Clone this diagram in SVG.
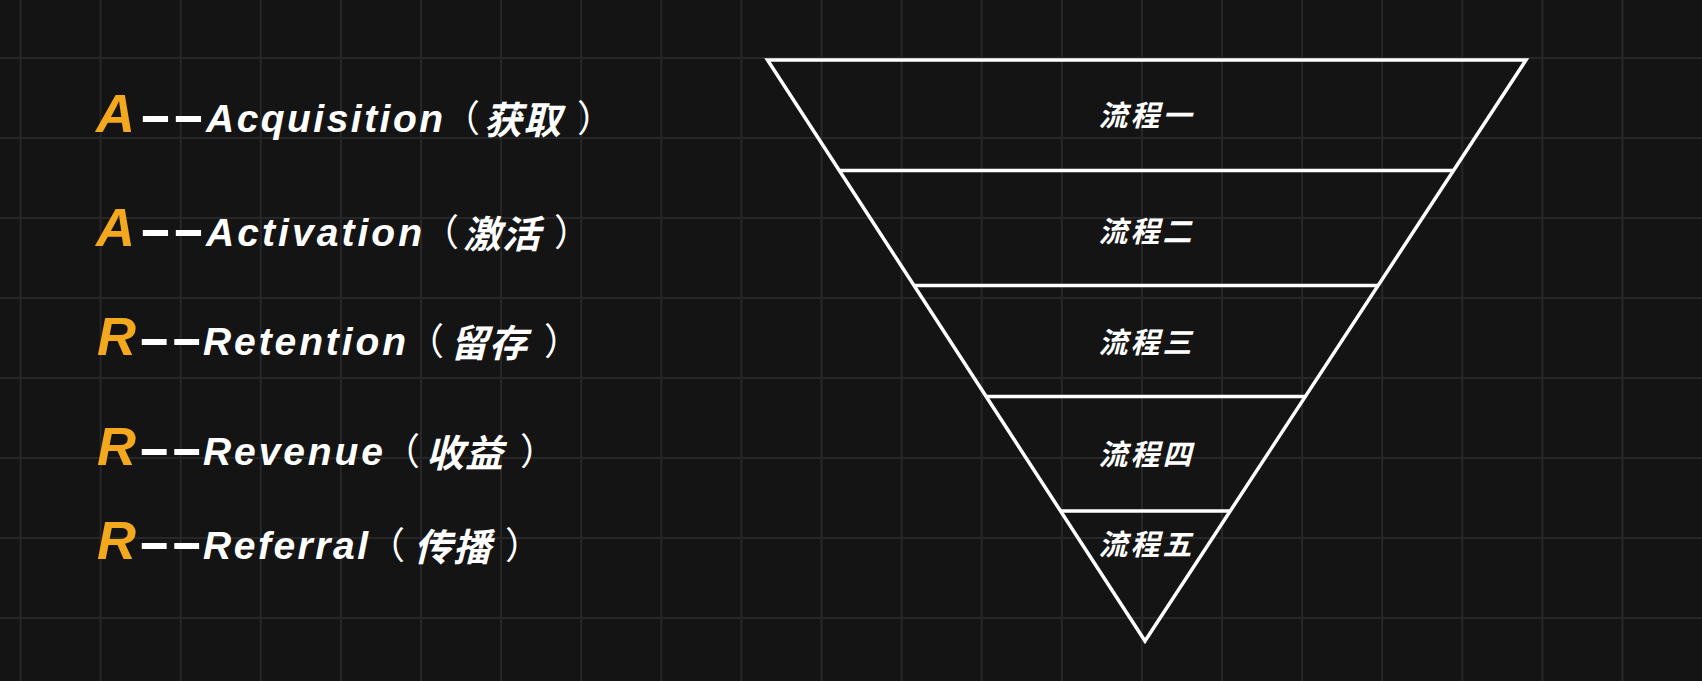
<svg xmlns="http://www.w3.org/2000/svg" width="1702" height="681" viewBox="0 0 1702 681">
<style>
.bg{fill:#141414}
.grid{stroke:#272727;stroke-width:2;fill:none}
.key{font-family:"Liberation Sans",Arial,sans-serif;font-weight:bold;font-style:italic;font-size:54px;fill:#f4a81d}
.dash{font-family:"Liberation Sans",Arial,sans-serif;font-weight:bold;font-size:50px;fill:#ffffff}
.word{font-family:"Liberation Sans",Arial,sans-serif;font-weight:bold;font-style:italic;font-size:39px;fill:#ffffff}
.cjk{font-family:"Noto Sans CJK SC","Noto Sans CJK JP",sans-serif;font-weight:bold;font-style:italic;font-size:38px;letter-spacing:1px;fill:#ffffff}
.par{font-family:"Noto Sans CJK SC","Noto Sans CJK JP",sans-serif;font-weight:normal;font-size:37px;fill:#ffffff}
.edge{stroke:#ffffff;stroke-width:3.5;fill:none;stroke-linejoin:miter}
.lbl{font-family:"Noto Sans CJK SC","Noto Sans CJK JP",sans-serif;font-weight:bold;font-style:italic;font-size:29px;letter-spacing:3px;fill:#ffffff;text-anchor:middle}
</style>
<rect class="bg" x="0" y="0" width="1702" height="681"/>
<path class="grid" d="M20.5 0V681M100.6 0V681M180.7 0V681M260.8 0V681M340.9 0V681M421 0V681M501.1 0V681M581.2 0V681M661.3 0V681M741.4 0V681M821.5 0V681M901.6 0V681M981.7 0V681M1061.8 0V681M1141.9 0V681M1222 0V681M1302.1 0V681M1382.2 0V681M1462.3 0V681M1542.4 0V681M1622.5 0V681M0 58H1702M0 138H1702M0 218H1702M0 298H1702M0 378H1702M0 458H1702M0 538H1702M0 618H1702"/>

<g id="row-acquisition">
<text class="key" x="96" y="132">A</text>
<text class="dash" x="139" y="132" textLength="66" lengthAdjust="spacingAndGlyphs">--</text>
<text class="word" x="206" y="132" textLength="237" lengthAdjust="spacing">Acquisition</text>
<text class="par" x="443" y="132">（</text>
<text class="cjk" x="484" y="134">获取</text>
<text class="par" x="577" y="132">）</text>
</g>
<g id="row-activation">
<text class="key" x="96" y="245.5">A</text>
<text class="dash" x="139" y="245.5" textLength="66" lengthAdjust="spacingAndGlyphs">--</text>
<text class="word" x="206" y="245.5" textLength="216" lengthAdjust="spacing">Activation</text>
<text class="par" x="422" y="245.5">（</text>
<text class="cjk" x="463" y="247.5">激活</text>
<text class="par" x="554" y="245.5">）</text>
</g>
<g id="row-retention">
<text class="key" x="97" y="355">R</text>
<text class="dash" x="138" y="355" textLength="65" lengthAdjust="spacingAndGlyphs">--</text>
<text class="word" x="203" y="355" textLength="203" lengthAdjust="spacing">Retention</text>
<text class="par" x="407" y="355">（</text>
<text class="cjk" x="450" y="357">留存</text>
<text class="par" x="544" y="355">）</text>
</g>
<g id="row-revenue">
<text class="key" x="97" y="465">R</text>
<text class="dash" x="138" y="465" textLength="65" lengthAdjust="spacingAndGlyphs">--</text>
<text class="word" x="203" y="465" textLength="180" lengthAdjust="spacing">Revenue</text>
<text class="par" x="383" y="465">（</text>
<text class="cjk" x="426" y="467">收益</text>
<text class="par" x="520" y="465">）</text>
</g>
<g id="row-referral">
<text class="key" x="97" y="558.5">R</text>
<text class="dash" x="138" y="558.5" textLength="65" lengthAdjust="spacingAndGlyphs">--</text>
<text class="word" x="203" y="558.5" textLength="165" lengthAdjust="spacing">Referral</text>
<text class="par" x="368" y="558.5">（</text>
<text class="cjk" x="414" y="560.5">传播</text>
<text class="par" x="505" y="558.5">）</text>
</g>

<g id="funnel">
<polygon class="edge" points="767.5,60 1526,60 1145,641"/>
</g>
<g id="tier1">
<text class="lbl" x="1146.5" y="125.5">流程一</text>
</g>
<g id="tier2">
<line class="edge" x1="839.3" y1="170.5" x2="1453.5" y2="170.5"/>
<text class="lbl" x="1146.5" y="241.5">流程二</text>
</g>
<g id="tier3">
<line class="edge" x1="914" y1="285.5" x2="1378.1" y2="285.5"/>
<text class="lbl" x="1146.5" y="352.5">流程三</text>
</g>
<g id="tier4">
<line class="edge" x1="986.1" y1="396.5" x2="1305.3" y2="396.5"/>
<text class="lbl" x="1146.5" y="464.5">流程四</text>
</g>
<g id="tier5">
<line class="edge" x1="1060.5" y1="511" x2="1230.2" y2="511"/>
<text class="lbl" x="1146.5" y="554.5">流程五</text>
</g>
</svg>
